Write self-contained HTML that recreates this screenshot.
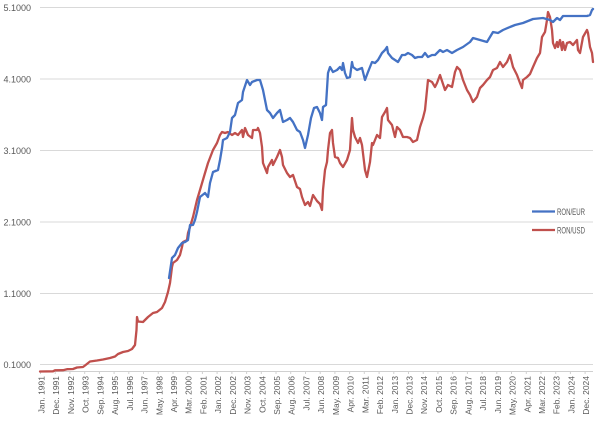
<!DOCTYPE html>
<html><head><meta charset="utf-8"><style>
html,body{margin:0;padding:0;background:#fff;}
svg{display:block;}
text{font-family:"Liberation Sans",Arial,sans-serif;fill:#595959;}
</style></head><body>
<svg width="600" height="427" viewBox="0 0 600 427" xmlns="http://www.w3.org/2000/svg">
<rect width="600" height="427" fill="#fff"/>
<g stroke="#D9D9D9" stroke-width="1">
<line x1="40" y1="7.5" x2="593" y2="7.5"/>
<line x1="40" y1="79" x2="593" y2="79"/>
<line x1="40" y1="150.5" x2="593" y2="150.5"/>
<line x1="40" y1="222" x2="593" y2="222"/>
<line x1="40" y1="293.5" x2="593" y2="293.5"/>
<line x1="40" y1="364.5" x2="593" y2="364.5"/>
</g>
<line x1="40" y1="371.5" x2="593" y2="371.5" stroke="#D0D0D0" stroke-width="1"/>
<g font-size="9" text-anchor="end">
<text x="31" y="10.8">5.1000</text>
<text x="31" y="82.3">4.1000</text>
<text x="31" y="153.8">3.1000</text>
<text x="31" y="225.3">2.1000</text>
<text x="31" y="296.8">1.1000</text>
<text x="31" y="367.8">0.1000</text>
</g>
<g stroke="#D0D0D0" stroke-width="1">
<line x1="40.5" y1="371" x2="40.5" y2="374"/><line x1="55.2" y1="371" x2="55.2" y2="374"/><line x1="69.9" y1="371" x2="69.9" y2="374"/><line x1="84.7" y1="371" x2="84.7" y2="374"/><line x1="99.4" y1="371" x2="99.4" y2="374"/><line x1="114.1" y1="371" x2="114.1" y2="374"/><line x1="128.8" y1="371" x2="128.8" y2="374"/><line x1="143.5" y1="371" x2="143.5" y2="374"/><line x1="158.3" y1="371" x2="158.3" y2="374"/><line x1="173" y1="371" x2="173" y2="374"/><line x1="187.7" y1="371" x2="187.7" y2="374"/><line x1="202.4" y1="371" x2="202.4" y2="374"/><line x1="217.1" y1="371" x2="217.1" y2="374"/><line x1="231.9" y1="371" x2="231.9" y2="374"/><line x1="246.6" y1="371" x2="246.6" y2="374"/><line x1="261.3" y1="371" x2="261.3" y2="374"/><line x1="276" y1="371" x2="276" y2="374"/><line x1="290.7" y1="371" x2="290.7" y2="374"/><line x1="305.5" y1="371" x2="305.5" y2="374"/><line x1="320.2" y1="371" x2="320.2" y2="374"/><line x1="334.9" y1="371" x2="334.9" y2="374"/><line x1="349.6" y1="371" x2="349.6" y2="374"/><line x1="364.3" y1="371" x2="364.3" y2="374"/><line x1="379.1" y1="371" x2="379.1" y2="374"/><line x1="393.8" y1="371" x2="393.8" y2="374"/><line x1="408.5" y1="371" x2="408.5" y2="374"/><line x1="423.2" y1="371" x2="423.2" y2="374"/><line x1="437.9" y1="371" x2="437.9" y2="374"/><line x1="452.7" y1="371" x2="452.7" y2="374"/><line x1="467.4" y1="371" x2="467.4" y2="374"/><line x1="482.1" y1="371" x2="482.1" y2="374"/><line x1="496.8" y1="371" x2="496.8" y2="374"/><line x1="511.5" y1="371" x2="511.5" y2="374"/><line x1="526.3" y1="371" x2="526.3" y2="374"/><line x1="541" y1="371" x2="541" y2="374"/><line x1="555.7" y1="371" x2="555.7" y2="374"/><line x1="570.4" y1="371" x2="570.4" y2="374"/><line x1="585.1" y1="371" x2="585.1" y2="374"/>
</g>
<g font-size="8.5" text-anchor="end">
<text transform="translate(44.5,376) rotate(-90)">Jan. 1991</text>
<text transform="translate(59.2,376) rotate(-90)">Dec. 1991</text>
<text transform="translate(73.9,376) rotate(-90)">Nov. 1992</text>
<text transform="translate(88.7,376) rotate(-90)">Oct. 1993</text>
<text transform="translate(103.4,376) rotate(-90)">Sep. 1994</text>
<text transform="translate(118.1,376) rotate(-90)">Aug. 1995</text>
<text transform="translate(132.8,376) rotate(-90)">Jul. 1996</text>
<text transform="translate(147.5,376) rotate(-90)">Jun. 1997</text>
<text transform="translate(162.3,376) rotate(-90)">May. 1998</text>
<text transform="translate(177,376) rotate(-90)">Apr. 1999</text>
<text transform="translate(191.7,376) rotate(-90)">Mar. 2000</text>
<text transform="translate(206.4,376) rotate(-90)">Feb. 2001</text>
<text transform="translate(221.1,376) rotate(-90)">Jan. 2002</text>
<text transform="translate(235.9,376) rotate(-90)">Dec. 2002</text>
<text transform="translate(250.6,376) rotate(-90)">Nov. 2003</text>
<text transform="translate(265.3,376) rotate(-90)">Oct. 2004</text>
<text transform="translate(280,376) rotate(-90)">Sep. 2005</text>
<text transform="translate(294.7,376) rotate(-90)">Aug. 2006</text>
<text transform="translate(309.5,376) rotate(-90)">Jul. 2007</text>
<text transform="translate(324.2,376) rotate(-90)">Jun. 2008</text>
<text transform="translate(338.9,376) rotate(-90)">May. 2009</text>
<text transform="translate(353.6,376) rotate(-90)">Apr. 2010</text>
<text transform="translate(368.3,376) rotate(-90)">Mar. 2011</text>
<text transform="translate(383.1,376) rotate(-90)">Feb. 2012</text>
<text transform="translate(397.8,376) rotate(-90)">Jan. 2013</text>
<text transform="translate(412.5,376) rotate(-90)">Dec. 2013</text>
<text transform="translate(427.2,376) rotate(-90)">Nov. 2014</text>
<text transform="translate(441.9,376) rotate(-90)">Oct. 2015</text>
<text transform="translate(456.7,376) rotate(-90)">Sep. 2016</text>
<text transform="translate(471.4,376) rotate(-90)">Aug. 2017</text>
<text transform="translate(486.1,376) rotate(-90)">Jul. 2018</text>
<text transform="translate(500.8,376) rotate(-90)">Jun. 2019</text>
<text transform="translate(515.5,376) rotate(-90)">May. 2020</text>
<text transform="translate(530.3,376) rotate(-90)">Apr. 2021</text>
<text transform="translate(545,376) rotate(-90)">Mar. 2022</text>
<text transform="translate(559.7,376) rotate(-90)">Feb. 2023</text>
<text transform="translate(574.4,376) rotate(-90)">Jan. 2024</text>
<text transform="translate(589.1,376) rotate(-90)">Dec. 2024</text>
</g>
<polyline fill="none" stroke="#C0504D" stroke-width="2.3" stroke-linejoin="round" stroke-linecap="round" points="40,371.5 53,371.3 55,370.3 63,370.2 67,369.2 73,369 77,367.5 83,367 85,365.5 90,361.5 97,360.5 103,359.5 110,358 115,356.5 118,354 123,352 128,351 132,349 135,345 136.5,330 137,317 138,321.5 143,322 148,317 153,313 157,312 162,308 165,302 168,292 170,283 172,267 173,263 177,260 180,255 182,247 183,242 187,240 188,233 190,227 193,217 197,200 200,190 205,173 208,163 213,150 217,143 220,135 222,132 225,133 228,132 232,135 235,133 238,135 242,130 243,137 245,128 248,135 252,138 253,130 257,130 258,128 260,133 262,147 263,163 267,173 268,167 272,160 273,165 277,157 280,150 282,157 283,165 287,173 290,177 293,175 297,187 300,189 302,197 305,205 308,202 310,206 313,195 317,201 320,204 322,210 323,190 325,170 327,162 328,150 330,133 332,130 333,143 335,157 338,158 340,163 343,167 347,160 350,150 352,118 353,130 355,137 358,143 360,138 362,145 365,170 367,177 370,162 372,143 373,145 375,140 377,135 380,138 382,117 385,112 387,108 388,120 392,125 395,137 397,127 400,130 403,137 407,137 410,138 413,142 417,140 420,127 423,118 425,110 427,90 428,80 432,82 435,87 437,83 440,75 443,84 445,90 448,85 452,87 455,72 457,67 460,70 463,80 467,90 470,95 473,102 477,97 480,88 483,85 487,80 490,77 493,70 497,68 500,62 503,67 507,62 510,55 513,67 517,75 520,83 522,88 523,80 527,77 530,74 533,67 537,58 540,53 542,37 545,32 547,20 548,12 550,17 552,30 553,43 555,48 557,42 558,47 560,40 562,50 563,42 565,50 567,43 570,42 573,45 577,40 578,50 580,53 583,37 587,30 588,33 590,47 592,53 593,62"/>
<polyline fill="none" stroke="#4472C4" stroke-width="2.3" stroke-linejoin="round" stroke-linecap="round" points="169,278 172,258 175,255 178,248 182,243 185,242 188,240 190,225 193,225 195,220 197,212 200,197 205,193 208,197 210,183 213,172 218,170 220,160 222,148 223,140 227,138 230,132 232,118 235,115 238,103 242,100 243,92 247,80 250,85 252,82 257,80 260,80 263,90 265,100 267,110 270,113 273,118 277,113 280,110 283,122 287,120 290,118 293,122 297,130 300,132 303,140 305,148 308,135 311,118 314,108 317,107 320,113 322,120 323,107 326,105 328,73 330,67 333,72 337,70 340,67 342,70 343,63 345,73 347,78 350,77 352,62 353,67 357,70 362,68 365,80 368,72 372,62 375,63 378,60 382,53 385,50 387,47 388,53 392,58 395,60 398,62 402,55 405,55 408,53 412,55 415,58 418,57 422,57 425,53 428,57 432,55 435,55 440,50 443,52 447,50 452,53 457,50 463,47 470,42 473,38 480,40 487,42 490,37 493,32 498,33 503,30 510,27 515,25 523,23 528,21 533,19 543,18 550,20 553,22 557,18 560,20 563,16 573,16 587,16 590,15 592,10 593,9"/>
<line x1="532" y1="211.5" x2="555" y2="211.5" stroke="#4472C4" stroke-width="2.3"/>
<text x="557" y="214.8" font-size="9" textLength="28" lengthAdjust="spacingAndGlyphs">RON/EUR</text>
<line x1="532" y1="230" x2="555" y2="230" stroke="#C0504D" stroke-width="2.3"/>
<text x="557" y="233.3" font-size="9" textLength="28" lengthAdjust="spacingAndGlyphs">RON/USD</text>
</svg>
</body></html>
